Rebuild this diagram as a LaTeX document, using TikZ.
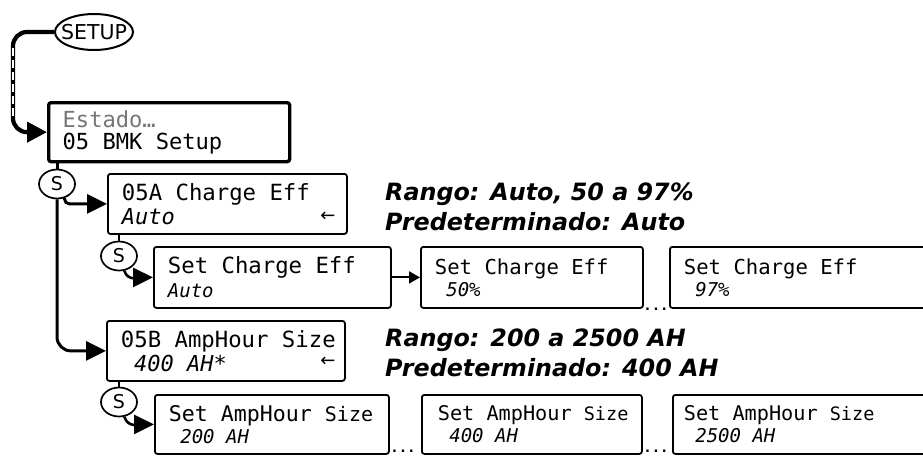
\documentclass[tikz,border=0pt]{standalone}
\usepackage{fontspec}
\setmainfont{DejaVu Sans}
\setmonofont{DejaVu Sans Mono}
\usetikzlibrary{arrows.meta,shapes.geometric}
\definecolor{estgray}{HTML}{767676}
\newcommand\msp{\kern0.602em\relax}
\newcommand\lnB{\fontsize{19}{21}\selectfont\itshape}
\newcommand\lnC{\fontsize{22}{24}\selectfont\itshape}
\tikzset{
  box/.style={draw, rounded corners=2.5pt, line width=1.8pt, anchor=north west,
    inner xsep=14pt, inner ysep=0pt, align=left,
    font=\ttfamily\fontsize{22.3}{24}\selectfont},
  boxB/.style={box, font=\ttfamily\fontsize{20.6}{22}\selectfont},
  sbub/.style={draw, ellipse, line width=1.7pt, minimum width=36pt, minimum height=29pt,
    inner sep=0pt, font=\fontsize{19}{20}\selectfont},
  conn/.style={line width=3pt, -{Triangle[length=20pt,width=19pt]}},
  link/.style={line width=2.2pt},
  annot/.style={anchor=base west, inner sep=0pt,
    font=\fontsize{23.8}{28}\selectfont\bfseries\itshape},
  dotsn/.style={anchor=base, inner sep=0pt, font=\ttfamily\bfseries\fontsize{14}{14}\selectfont},
  larr/.style={inner sep=0pt, font=\fontsize{18}{18}\selectfont},
}
\begin{document}
\begin{tikzpicture}[x=1pt,y=-1pt]
\useasboundingbox (0,0) rectangle (923,456);
\fill[white] (0,0) rectangle (923,456);
\clip (0,0) rectangle (923,456);

% nodes
\node[draw, ellipse, line width=2pt, minimum width=78pt, minimum height=36pt, inner sep=0pt,
  font=\fontsize{20.5}{21}\selectfont] (setup) at (94,32) {\makebox[0pt]{SETUP}};

\node[box, line width=3.3pt, minimum width=241pt, minimum height=59pt, text width=213pt,
  font=\ttfamily\fontsize{22.1}{22.5}\selectfont] (estado) at (47,101)
  {{\color{estgray}Estado…}\\05\msp BMK\msp Setup};

\node[sbub] (s1) at (57,184) {S};

\node[box, minimum width=239pt, minimum height=60pt, text width=211pt] (a05A) at (107,173)
  {05A\msp Charge\msp Eff\\\lnC Auto};
\node[larr] (arA) at (328,217) {←};

\node[sbub] (s2) at (119,256) {S};

\node[box, minimum width=237pt, minimum height=61pt, text width=209pt] (setCE1) at (153,246)
  {Set\msp Charge\msp Eff\\\lnB Auto};
\node[boxB, minimum width=222pt, minimum height=61pt, text width=194pt] (setCE2) at (420,246)
  {Set\msp Charge\msp Eff\\\lnB\phantom{0}50\%};
\node[boxB, minimum width=280pt, minimum height=61pt, text width=252pt] (setCE3) at (669,246)
  {Set\msp Charge\msp Eff\\\lnB\phantom{0}97\%};
\node[dotsn] (d1) at (656,310) {...};

\node[annot] (rA1) at (385,200) {Rango: Auto, 50 a 97\%};
\node[annot] (rA2) at (385,230) {Predeterminado: Auto};

\node[box, minimum width=238pt, minimum height=60pt, text width=210pt] (a05B) at (106,320)
  {05B\msp AmpHour\msp Size\\\lnC\phantom{0}400\msp AH*};
\node[larr] (arB) at (328,362) {←};

\node[annot] (rB1) at (385,346) {Rango: 200 a 2500 AH};
\node[annot] (rB2) at (385,376) {Predeterminado: 400 AH};

\node[sbub] (s3) at (119,402) {S};

\node[box, minimum width=234pt, minimum height=59pt, text width=206pt,
  font=\ttfamily\fontsize{21.6}{22}\selectfont] (setAH1) at (154,394)
  {Set\msp AmpHour\msp{\fontsize{20}{20}\selectfont Size}\\\lnB\phantom{0}200\msp AH};
\node[boxB, inner xsep=16pt, minimum width=220pt, minimum height=59pt, text width=188pt,
  font=\ttfamily\fontsize{20.2}{22}\selectfont] (setAH2) at (421,394)
  {Set\msp AmpHour\msp{\fontsize{18.5}{20}\selectfont Size}\\\lnB\phantom{0}400\msp AH};
\node[boxB, inner xsep=11pt, minimum width=280pt, minimum height=59pt, text width=258pt,
  font=\ttfamily\fontsize{20.2}{22}\selectfont] (setAH3) at (672,394)
  {Set\msp AmpHour\msp{\fontsize{18.5}{20}\selectfont Size}\\\lnB\phantom{0}2500\msp AH};
\node[dotsn] (d2) at (403,452) {...};
\node[dotsn] (d3) at (656,452) {...};

% connectors
\draw[line width=4.2pt, rounded corners=14pt, -{Triangle[length=20pt,width=20pt]}]
  (setup.west) -| (13,80) |- (estado.west);
\draw[white, line width=1.8pt, dash pattern=on 8pt off 4pt] (13,48) -- (13,117);

\draw[link, line width=3pt] (estado.south -| s1.north) -- (s1.north);
\draw[conn, rounded corners=5pt] (s1.-62) |- (a05A.west);
\draw[conn, rounded corners=14pt] (s1.south) |- (a05B.west);

\draw[link] (a05A.south -| s2.north) -- (s2.north);
\draw[conn, line width=2.6pt] (s2.-70) to[out=-75,in=180] (setCE1.west);
\draw[line width=2pt, -{Triangle[length=11pt,width=12pt]}] (setCE1.east) -- (setCE2.west);

\draw[link] (a05B.south -| s3.north) -- (s3.north);
\draw[conn, line width=2.6pt] (s3.-70) to[out=-75,in=180] (setAH1.west);
\end{tikzpicture}
\end{document}
